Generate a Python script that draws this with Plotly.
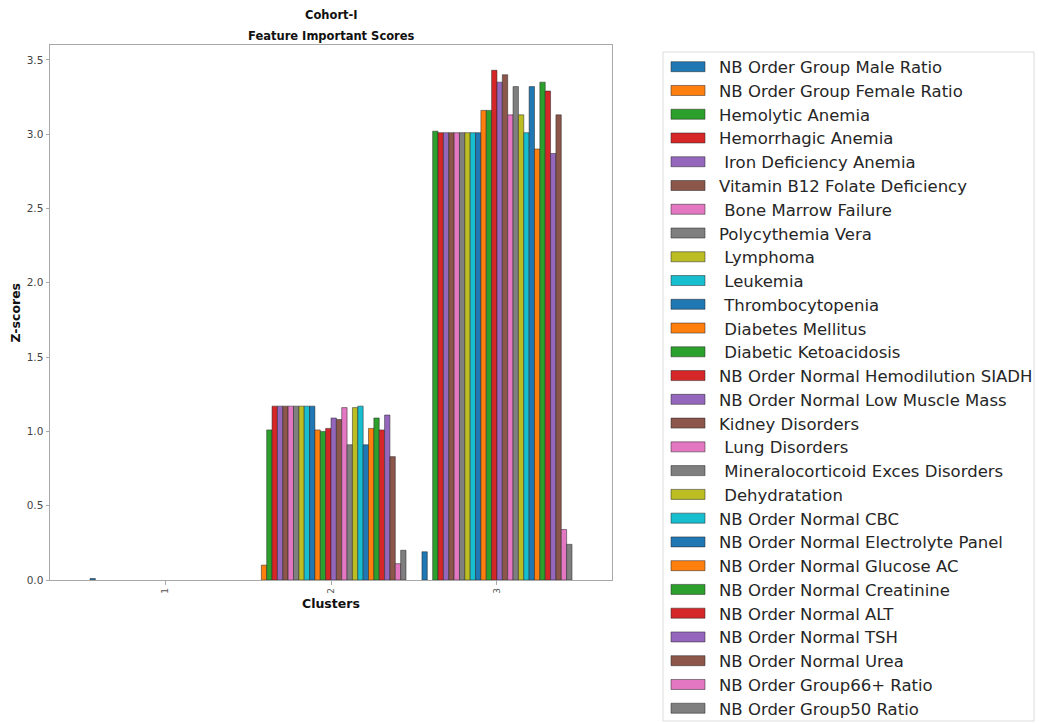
import plotly.graph_objects as go

# Cluster labels on the x axis
clusters = ["1", "2", "3"]

# Feature names (legend order = bar order inside each cluster)
features = [
    "NB Order Group Male Ratio",
    "NB Order Group Female Ratio",
    "Hemolytic Anemia",
    "Hemorrhagic Anemia",
    " Iron Deficiency Anemia",
    "Vitamin B12 Folate Deficiency",
    " Bone Marrow Failure",
    "Polycythemia Vera",
    " Lymphoma",
    " Leukemia",
    " Thrombocytopenia",
    " Diabetes Mellitus",
    " Diabetic Ketoacidosis",
    "NB Order Normal Hemodilution SIADH",
    "NB Order Normal Low Muscle Mass",
    "Kidney Disorders",
    " Lung Disorders",
    " Mineralocorticoid Exces Disorders",
    " Dehydratation",
    "NB Order Normal CBC",
    "NB Order Normal Electrolyte Panel",
    "NB Order Normal Glucose AC",
    "NB Order Normal Creatinine",
    "NB Order Normal ALT",
    "NB Order Normal TSH",
    "NB Order Normal Urea",
    "NB Order Group66+ Ratio",
    "NB Order Group50 Ratio",
]

# Z-scores per feature for each cluster
cluster_1 = [0.01] + [0.0] * 27
cluster_2 = [0.00, 0.10, 1.01, 1.17, 1.17, 1.17, 1.17, 1.17, 1.17, 1.17,
             1.17, 1.01, 1.00, 1.02, 1.09, 1.08, 1.16, 0.91, 1.16, 1.17,
             0.91, 1.02, 1.09, 1.01, 1.11, 0.83, 0.11, 0.20]
cluster_3 = [0.19, 0.00, 3.02, 3.01, 3.01, 3.01, 3.01, 3.01, 3.01, 3.01,
             3.01, 3.16, 3.16, 3.43, 3.35, 3.40, 3.13, 3.32, 3.13, 3.01,
             3.32, 2.90, 3.35, 3.29, 2.87, 3.13, 0.34, 0.24]

y_ticks = [0.0, 0.5, 1.0, 1.5, 2.0, 2.5, 3.0, 3.5]

palette = ["#1f77b4", "#ff7f0e", "#2ca02c", "#d62728", "#9467bd",
           "#8c564b", "#e377c2", "#7f7f7f", "#bcbd22", "#17becf"]

FONT = "DejaVu Sans"
EDGE = "rgba(35,35,35,0.85)"
W, H = 1039, 723
L, R, T, B = 50, 612, 45, 580  # plot-area edges in pixels


def px_x(px):
    return (px - L) / (R - L)


def px_y(py):
    return (B - py) / (B - T)


fig = go.Figure()
for i, name in enumerate(features):
    values = [cluster_1[i], cluster_2[i], cluster_3[i]]
    fig.add_trace(go.Bar(
        x=clusters,
        y=values,
        name=name.strip(),
        marker=dict(color=palette[i % len(palette)],
                    # no outline on empty bars so the baseline stays clean
                    line=dict(color=EDGE,
                              width=[0.6 if v > 0 else 0 for v in values])),
        showlegend=False,
    ))

shapes = []
annotations = []

# Legend frame
shapes.append(dict(type="rect", xref="paper", yref="paper",
                   x0=px_x(663), x1=px_x(1034), y0=px_y(721), y1=px_y(52),
                   line=dict(color="#dcdcdc", width=1), fillcolor="white",
                   layer="below"))

# Legend entries
row0, step = 66.7, 23.76
for i, name in enumerate(features):
    yc = row0 + step * i
    shapes.append(dict(type="rect", xref="paper", yref="paper",
                       x0=px_x(671), x1=px_x(705),
                       y0=px_y(yc + 5), y1=px_y(yc - 5),
                       fillcolor=palette[i % len(palette)],
                       line=dict(color=EDGE, width=0.6)))
    label = name.replace(" ", "\u00a0", 1) if name.startswith(" ") else name
    annotations.append(dict(text=label, xref="paper", yref="paper",
                            x=px_x(717), y=px_y(yc + 1),
                            xanchor="left", yanchor="middle", showarrow=False,
                            font=dict(family=FONT, size=16.5, color="#262626")))

# Titles
annotations.append(dict(text="<b>Cohort-I</b>", xref="paper", yref="paper",
                        x=0.5, y=px_y(15), xanchor="center", yanchor="middle",
                        showarrow=False,
                        font=dict(family=FONT, size=11.5, color="#111")))
annotations.append(dict(text="<b>Feature Important Scores</b>", xref="paper",
                        yref="paper", x=0.5, y=px_y(36), xanchor="center",
                        yanchor="middle", showarrow=False,
                        font=dict(family=FONT, size=11.5, color="#111")))

# Axis titles
annotations.append(dict(text="<b>Clusters</b>", xref="paper", yref="paper",
                        x=0.5, y=px_y(603), xanchor="center", yanchor="middle",
                        showarrow=False,
                        font=dict(family=FONT, size=12.5, color="#111")))
annotations.append(dict(text="<b>Z-scores</b>", xref="paper", yref="paper",
                        x=px_x(15), y=0.5, xanchor="center", yanchor="middle",
                        textangle=-90, showarrow=False,
                        font=dict(family=FONT, size=12.5, color="#111")))

fig.update_layout(
    width=W, height=H,
    margin=dict(l=L, r=W - R, t=T, b=H - B, pad=0),
    paper_bgcolor="white", plot_bgcolor="white",
    barmode="group", bargap=0.096, bargroupgap=0,
    font=dict(family=FONT),
    shapes=shapes, annotations=annotations,
    showlegend=False,
)

fig.update_xaxes(
    type="category", range=[-0.693, 2.693],
    showline=True, mirror=True, linecolor="#a8a8a8", linewidth=1,
    ticks="outside", ticklen=3.5, tickcolor="#a8a8a8", tickangle=-90,
    tickfont=dict(family=FONT, size=9, color="#555"),
    showgrid=False, zeroline=False,
)
fig.update_yaxes(
    range=[0, 3.6], tickvals=y_ticks,
    ticktext=[f"{v:.1f}" for v in y_ticks],
    showline=True, mirror=True, linecolor="#a8a8a8", linewidth=1,
    ticks="outside", ticklen=3.5, tickcolor="#a8a8a8",
    tickfont=dict(family=FONT, size=10.5, color="#444"),
    showgrid=False, zeroline=False,
)

fig.write_html("out.html")
